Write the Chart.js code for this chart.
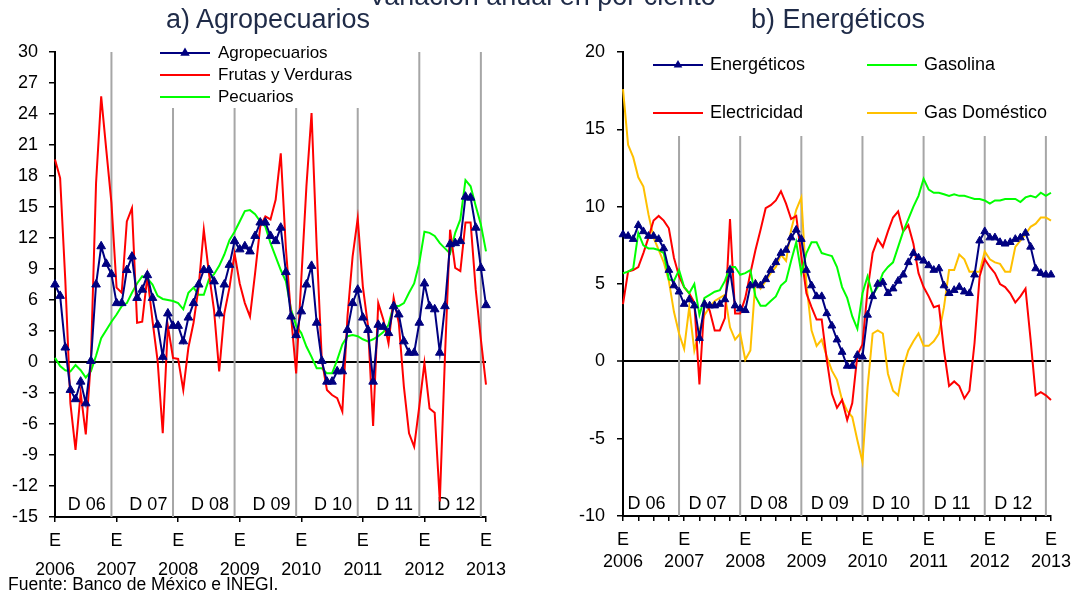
<!DOCTYPE html>
<html>
<head>
<meta charset="UTF-8">
<title>Agropecuarios y Energéticos</title>
<script src="https://cdn.jsdelivr.net/npm/chart.js"></script>
<style>
  body { margin: 0; background: #fff; font-family: "Liberation Sans", Arial, sans-serif; }
  #page { position: relative; width: 1080px; height: 591px; overflow: hidden; }
  canvas { position: absolute; top: 0; }
  .ttl { position: absolute; color: #1f2b48; font-size: 27px; line-height: 30px; white-space: nowrap; transform: translateX(-50%); }
  #foot { position: absolute; left: 8px; top: 574px; font-size: 17.5px; line-height: 20px; color: #000; }
</style>
</head>
<body>
<div id="page">
  <canvas id="agroChart" width="540" height="591" style="left:0"></canvas>
  <canvas id="energChart" width="540" height="591" style="left:540px"></canvas>
  <div class="ttl" style="left:542px; top:-19px">Variación anual en por ciento</div>
  <div class="ttl" style="left:268px; top:4px">a) Agropecuarios</div>
  <div class="ttl" style="left:838px; top:4px">b) Energéticos</div>
  <div id="foot">Fuente: Banco de México e INEGI.</div>
</div>

<script>
  // monthly data, E 2006 ... E 2013 (85 months)
  const years = ['2006', '2007', '2008', '2009', '2010', '2011', '2012', '2013'];
  const decMonths = [11, 23, 35, 47, 59, 71, 83];
  const decLabels = ['D 06', 'D 07', 'D 08', 'D 09', 'D 10', 'D 11', 'D 12'];

  // a) Agropecuarios
  const agro = [
    7.5, 6.4, 1.4, -2.7, -3.6, -1.9, -4.0, 0.1, 7.5, 11.2, 9.5, 8.5,
    5.7, 5.7, 8.9, 10.2, 6.2, 7.0, 8.4, 6.2, 3.6, 0.5, 4.7, 3.5,
    3.5, 2.0, 4.3, 5.7, 7.5, 8.9, 8.9, 7.8, 4.7, 7.5, 9.4, 11.7,
    10.9, 11.2, 10.7, 12.2, 13.5, 13.5, 12.2, 11.7, 13.0, 8.7, 4.4, 2.6,
    4.9, 7.5, 9.3, 3.8, 0.1, -1.9, -1.9, -0.9, -0.9, 3.1, 5.7, 7.0,
    4.3, 3.1, -1.9, 3.6, 3.4, 2.8, 5.4, 4.6, 2.0, 0.9, 0.9, 3.8,
    7.6, 5.4, 5.1, 0.9, 5.4, 11.4, 11.5, 11.7, 16.0, 15.9, 13.0, 9.1,
    5.5
  ];
  const frutas = [
    19.6, 17.8, 8.0, -4.0, -8.5, -3.0, -7.0, 0.2, 17.3, 25.7, 20.5, 15.4,
    7.2, 6.7, 13.6, 14.9, 3.8, 3.9, 8.3, 4.0, 0.1, -6.9, 3.5, 0.4,
    0.3, -2.7, 1.4, 3.8, 7.3, 12.8, 8.6, 5.0, -0.9, 4.7, 7.2, 10.5,
    7.6, 5.7, 4.4, 8.6, 13.1, 14.1, 13.8, 15.7, 20.2, 11.0, 4.5, -1.1,
    8.0, 17.0, 24.1, 11.2, 0.2, -2.7, -3.2, -3.5, -4.8, 4.4, 10.2, 13.9,
    7.3, 3.5, -6.2, 5.7, 4.1, 1.8, 6.2, 3.8, -2.4, -6.9, -8.2, -4.3,
    -0.1, -4.5, -4.9, -13.5, 0.5, 12.8, 9.1, 8.8, 13.5, 13.5, 7.0, 2.2,
    -2.2
  ];
  const pecuarios = [
    0.4, -0.4, -0.8, -0.9, -0.3, -0.8, -1.5, -0.9, 0.6, 2.3, 3.1, 3.9,
    4.6, 5.4, 5.7, 6.7, 7.6, 8.3, 8.1, 7.5, 6.4, 6.1, 6.0, 5.9,
    5.7, 5.1, 6.7, 7.2, 6.5, 6.5, 8.0, 8.5, 9.3, 10.4, 11.8, 12.6,
    13.6, 14.6, 14.7, 14.3, 13.6, 13.1, 11.5, 10.2, 8.9, 7.8, 5.1, 3.5,
    2.8, 1.5, 0.5, -0.6, -0.6, -1.1, -1.1, 0.2, 1.7, 2.5, 2.6, 2.5,
    2.2, 2.0, 2.2, 2.5, 2.9, 3.6, 5.5, 5.4, 5.7, 6.7, 7.6, 9.6,
    12.6, 12.5, 12.2, 11.5, 11.0, 10.5, 12.5, 13.8, 17.6, 17.0, 15.1, 13.3,
    10.7
  ];

  // b) Energéticos
  const energeticos = [
    8.2, 8.1, 7.9, 8.8, 8.4, 8.1, 8.1, 7.9, 7.3, 5.9, 4.9, 4.5,
    3.7, 4.0, 3.6, 1.5, 3.7, 3.6, 3.6, 3.7, 4.0, 5.9, 3.6, 3.4,
    3.3, 4.9, 5.0, 4.9, 5.3, 5.9, 6.4, 7.0, 7.2, 8.0, 8.5, 7.9,
    5.9, 4.9, 4.2, 4.2, 3.1, 2.3, 1.4, 0.6, -0.3, -0.3, 0.4, 0.3,
    3.0, 4.2, 5.0, 5.1, 4.4, 4.7, 5.2, 5.6, 6.4, 7.0, 6.7, 6.5,
    6.2, 5.9, 6.0, 4.9, 4.4, 4.6, 4.8, 4.5, 4.4, 5.6, 7.8, 8.4,
    8.0, 8.0, 7.7, 7.6, 7.7, 7.9, 8.0, 8.3, 7.4, 6.0, 5.7, 5.6,
    5.6
  ];
  const gasolina = [
    5.7, 5.8, 6.0, 8.3, 7.5, 7.3, 7.3, 7.2, 7.0, 5.3, 5.2, 5.9,
    4.8, 4.4, 5.0, 3.0, 4.1, 4.3, 4.5, 4.6, 5.2, 6.1, 6.1, 5.6,
    5.7, 5.9, 4.2, 3.6, 3.6, 3.9, 4.2, 4.9, 5.2, 6.5, 7.7, 5.7,
    7.0, 7.7, 7.7, 7.0, 6.9, 6.8, 6.1, 4.8, 4.1, 2.9, 2.1, 4.4,
    5.5, 4.3, 4.8, 5.7, 6.1, 6.4, 7.4, 8.4, 9.2, 10.0, 10.7, 11.8,
    11.1, 10.9, 10.9, 10.8, 10.7, 10.8, 10.7, 10.7, 10.6, 10.5, 10.5, 10.4,
    10.2, 10.4, 10.4, 10.5, 10.5, 10.5, 10.3, 10.6, 10.7, 10.6, 10.9, 10.7,
    10.9
  ];
  const electricidad = [
    3.7, 5.8, 5.9, 6.1, 7.0, 8.0, 9.1, 9.4, 9.1, 8.6, 6.7, 5.5,
    4.8, 4.4, 3.8, -1.5, 3.9, 3.3, 2.0, 2.0, 2.8, 9.2, 3.1, 3.1,
    4.1, 5.7, 7.2, 8.5, 9.9, 10.1, 10.4, 11.0, 10.2, 9.2, 9.4, 6.8,
    4.4, 3.5, 2.7, 2.7, 0.1, -2.1, -3.0, -2.5, -3.8, -2.7, 0.4, 1.1,
    4.6, 7.0, 7.9, 7.4, 8.4, 9.3, 9.7, 8.4, 8.8, 7.6, 5.7, 4.8,
    4.2, 3.5, 3.6, 0.7, -1.6, -1.3, -1.6, -2.4, -1.9, 1.2, 5.5, 6.6,
    6.1, 5.7, 5.0, 4.8, 4.4, 3.8, 4.2, 4.7, 1.4, -2.2, -2.0, -2.2,
    -2.5
  ];
  const gasDomestico = [
    17.6, 14.0, 13.2, 11.9, 11.3, 9.5, 8.0, 7.2, 6.4, 5.2, 3.2, 1.8,
    0.8, 3.5, 0.7, 2.0, 3.0, 3.5, 3.9, 4.1, 4.3, 2.2, 1.4, 1.8,
    0.1, 0.7, 5.2, 4.7, 5.2, 5.7, 6.1, 6.9, 6.5, 8.5, 9.8, 10.6,
    5.0, 2.0, 1.0, 1.4, 0.3, -0.6, -1.2, -2.5, -3.2, -3.6, -5.1, -6.5,
    -1.7, 1.8, 2.0, 1.8, -0.8, -1.9, -2.2, -0.4, 0.7, 1.3, 1.8, 1.0,
    1.0, 1.3, 1.8, 3.5, 5.9, 5.9, 6.9, 6.6, 5.8, 5.8, 5.8, 7.1,
    6.6, 6.4, 6.3, 5.8, 5.8, 7.4, 7.8, 8.2, 8.7, 8.9, 9.3, 9.3,
    9.1
  ];

  const FONT = '"Liberation Sans", Arial, sans-serif';
  Chart.defaults.font.family = FONT;
  Chart.defaults.color = '#000';

  const pts = arr => arr.map((v, i) => ({ x: i, y: v }));

  // december lines, "D xx" labels and the in-plot legend
  const panelDecor = {
    id: 'panelDecor',
    beforeDatasetsDraw(chart, args, o) {
      const { ctx, chartArea: a, scales: { x } } = chart;
      ctx.save();
      ctx.strokeStyle = '#a6a6a6';
      ctx.lineWidth = 2;
      decMonths.forEach(m => {
        const px = x.getPixelForValue(m);
        ctx.beginPath();
        ctx.moveTo(px, a.top);
        ctx.lineTo(px, a.bottom);
        ctx.stroke();
      });
      // legend area is white, it hides the lines behind it
      ctx.fillStyle = '#fff';
      ctx.fillRect(o.box[0], o.box[1], o.box[2], o.box[3]);
      ctx.fillStyle = '#000';
      ctx.font = '18px ' + FONT;
      ctx.textAlign = 'center';
      ctx.textBaseline = 'middle';
      decLabels.forEach((t, k) => {
        ctx.fillText(t, x.getPixelForValue(decMonths[k] - o.labelShift), o.labelY);
      });
      ctx.restore();
    },
    afterDatasetsDraw(chart, args, o) {
      const ctx = chart.ctx;
      ctx.save();
      ctx.font = o.font;
      ctx.textAlign = 'left';
      ctx.textBaseline = 'middle';
      o.items.forEach(it => {
        const ds = chart.data.datasets[it.ds];
        ctx.strokeStyle = ds.borderColor;
        ctx.lineWidth = 2;
        ctx.beginPath();
        ctx.moveTo(it.x, it.y);
        ctx.lineTo(it.x + o.lineLen, it.y);
        ctx.stroke();
        if (ds.pointRadius) {
          const r = ds.pointRadius + 0.5;
          const cx = it.x + o.lineLen / 2;
          ctx.fillStyle = ds.backgroundColor;
          ctx.beginPath();
          ctx.moveTo(cx, it.y - r);
          ctx.lineTo(cx + r * 0.866, it.y + r / 2);
          ctx.lineTo(cx - r * 0.866, it.y + r / 2);
          ctx.closePath();
          ctx.fill();
        }
        ctx.fillStyle = '#000';
        ctx.fillText(ds.label, it.x + o.textGap, it.y);
      });
      ctx.restore();
    }
  };

  function xScale(step, lineHeight, pad) {
    return {
      type: 'linear',
      min: 0,
      max: 84,
      afterFit: s => { s.height = 70; },
      ticks: {
        stepSize: step,
        autoSkip: false,
        maxRotation: 0,
        padding: pad,
        color: '#000',
        font: { size: 18, lineHeight: lineHeight },
        callback: v => (v % 12 === 0 ? ['E', years[v / 12]] : '')
      },
      grid: { drawOnChartArea: false, tickLength: 5, color: '#000', lineWidth: 1.5 },
      border: { color: '#000', width: 2 }
    };
  }

  function yScale(min, max, step, width, pad) {
    return {
      min: min,
      max: max,
      afterFit: s => { s.width = width; },
      ticks: { stepSize: step, padding: pad, color: '#000', font: { size: 18 } },
      grid: {
        color: c => (c.tick.value === 0 ? '#000' : 'rgba(0,0,0,0)'),
        lineWidth: c => (c.tick.value === 0 ? 2 : 1.5),
        tickColor: '#000',
        tickWidth: 1.5,
        tickLength: 6
      },
      border: { color: '#000', width: 2 }
    };
  }

  function line(label, values, color) {
    return { label: label, data: pts(values), borderColor: color, backgroundColor: color, borderWidth: 2, pointRadius: 0, clip: false };
  }

  function marked(label, values, color, r) {
    return {
      label: label, data: pts(values), borderColor: color, backgroundColor: color, borderWidth: 2,
      pointStyle: 'triangle', pointRadius: r, pointBorderWidth: 1, clip: false
    };
  }

  const baseOptions = {
    responsive: false,
    animation: false,
    devicePixelRatio: 1,
    elements: { line: { tension: 0 } }
  };

  new Chart(document.getElementById('agroChart'), {
    type: 'line',
    data: {
      datasets: [
        marked('Agropecuarios', agro, '#000080', 5),
        line('Frutas y Verduras', frutas, '#ff0000'),
        line('Pecuarios', pecuarios, '#00ff00')
      ]
    },
    options: Object.assign({}, baseOptions, {
      layout: { padding: { left: 0, right: 54, top: 52, bottom: 4 } },
      scales: { x: xScale(12, 1.58, 5), y: yScale(-15, 30, 3, 55, 11) },
      plugins: {
        legend: { display: false },
        tooltip: { enabled: false },
        panelDecor: {
          box: [150, 40, 225, 68],
          labelShift: 4.8,
          labelY: 505,
          font: '17px ' + FONT,
          lineLen: 50,
          textGap: 58,
          items: [
            { ds: 0, x: 160, y: 53 },
            { ds: 1, x: 160, y: 75 },
            { ds: 2, x: 160, y: 97 }
          ]
        }
      }
    }),
    plugins: [panelDecor]
  });

  new Chart(document.getElementById('energChart'), {
    type: 'line',
    data: {
      datasets: [
        marked('Energéticos', energeticos, '#000080', 4.5),
        line('Gasolina', gasolina, '#00ff00'),
        line('Electricidad', electricidad, '#ff0000'),
        line('Gas Doméstico', gasDomestico, '#ffc000')
      ]
    },
    options: Object.assign({}, baseOptions, {
      layout: { padding: { left: 0, right: 23, top: 52, bottom: 5 } },
      scales: { x: xScale(3, 1.17, 9), y: yScale(-10, 20, 5, 83, 12) },
      plugins: {
        legend: { display: false },
        tooltip: { enabled: false },
        panelDecor: {
          box: [105, 40, 420, 96],
          labelShift: 6.4,
          labelY: 504,
          font: '18px ' + FONT,
          lineLen: 50,
          textGap: 57,
          items: [
            { ds: 0, x: 113, y: 65 },
            { ds: 1, x: 327, y: 65 },
            { ds: 2, x: 113, y: 113 },
            { ds: 3, x: 327, y: 113 }
          ]
        }
      }
    }),
    plugins: [panelDecor]
  });
</script>
</body>
</html>
